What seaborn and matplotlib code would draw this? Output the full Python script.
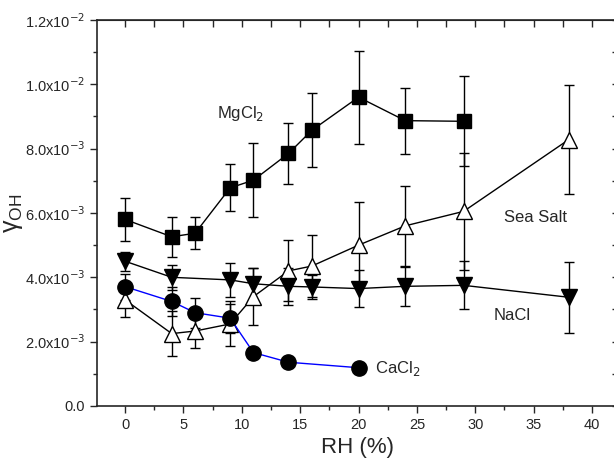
import matplotlib
matplotlib.use("Agg")
import matplotlib.pyplot as plt
import matplotlib.ticker as mticker
import pandas as pd
import seaborn as sns

# values (gamma in units of 1e-3)
rh_mg = [0, 4, 6, 9, 11, 14, 16, 20, 24, 29]
g_mg = [5.8, 5.26, 5.37, 6.78, 7.02, 7.85, 8.57, 9.6, 8.87, 8.85]
e_mg = [0.67, 0.62, 0.5, 0.73, 1.16, 0.95, 1.15, 1.45, 1.03, 1.4]

rh_sea = [0, 4, 6, 9, 11, 14, 16, 20, 24, 29, 38]
g_sea = [3.3, 2.25, 2.33, 2.55, 3.4, 4.2, 4.35, 5.0, 5.6, 6.05, 8.28]
e_sea = [0.53, 0.7, 0.52, 0.7, 0.88, 0.95, 0.97, 1.33, 1.25, 1.82, 1.7]

rh_na = [0, 4, 9, 11, 14, 16, 20, 24, 29, 38]
g_na = [4.5, 4.0, 3.92, 3.8, 3.72, 3.7, 3.65, 3.72, 3.75, 3.38]
e_na = [0.3, 0.38, 0.52, 0.5, 0.57, 0.38, 0.57, 0.6, 0.75, 1.1]

rh_ca = [0, 4, 6, 9, 11, 14, 20]
g_ca = [3.71, 3.25, 2.9, 2.73, 1.66, 1.36, 1.19]
e_ca = [0.4, 0.45, 0.47, 0.45, 0.0, 0.0, 0.0]

labels = ["MgCl$_2$", "Sea Salt", "NaCl", "CaCl$_2$"]

sns.set_style("ticks")
plt.rcParams["font.family"] = ["Liberation Sans", "DejaVu Sans"]

fig = plt.figure(figsize=(6.14, 4.59), dpi=100)
ax = fig.add_axes([0.158, 0.1155, 0.85, 0.841])

series = [
    (rh_mg, g_mg, e_mg, "s", "black", "black", 10),
    (rh_sea, g_sea, e_sea, "^", "white", "black", 12),
    (rh_na, g_na, e_na, "v", "black", "black", 12),
    (rh_ca, g_ca, e_ca, "o", "black", "#0000ff", 11),
]

for rh, g, e, mk, fc, lc, ms in series:
    df = pd.DataFrame({"RH": rh, "gamma": [v * 1e-3 for v in g]})
    ax.errorbar(df["RH"], df["gamma"], yerr=[v * 1e-3 for v in e], fmt="none",
                ecolor="black", elinewidth=1, capsize=3.5, capthick=1, zorder=2)
    sns.lineplot(data=df, x="RH", y="gamma", ax=ax, color=lc, lw=1,
                 marker=mk, markersize=ms, markerfacecolor=fc,
                 markeredgecolor="black", markeredgewidth=1, zorder=3)

ax.set_xlim(-2.4, 42.3)
ax.set_ylim(0, 0.012)
ax.xaxis.set_major_locator(mticker.MultipleLocator(5))
ax.xaxis.set_minor_locator(mticker.MultipleLocator(2.5))
ax.yaxis.set_major_locator(mticker.MultipleLocator(0.002))
ax.yaxis.set_minor_locator(mticker.MultipleLocator(0.001))


def yfmt(v, pos):
    if abs(v) < 1e-12:
        return "0.0"
    exp = -2 if v >= 0.00999 else -3
    return "%.1fx10$^{%d}$" % (v / 10 ** exp, exp)


ax.yaxis.set_major_formatter(mticker.FuncFormatter(yfmt))
ax.tick_params(axis="both", which="both", direction="out", labelsize=10.5, width=1)
ax.tick_params(which="major", length=5)
ax.tick_params(which="minor", length=3)

# top / right ticks pointing inward
top = ax.secondary_xaxis("top")
top.xaxis.set_major_locator(mticker.MultipleLocator(2.5))
top.tick_params(direction="in", length=5, width=1, labeltop=False)
right = ax.secondary_yaxis("right")
right.yaxis.set_major_locator(mticker.MultipleLocator(0.001))
right.tick_params(direction="in", length=5, width=1, labelright=False)

for sp in ax.spines.values():
    sp.set_linewidth(1.2)

ax.set_xlabel("RH (%)", fontsize=16)
ax.set_ylabel("γ$_\\mathregular{OH}$", fontsize=18)
ax.yaxis.set_label_coords(-0.138, 0.5)

ax.text(7.9, 9.1e-3, labels[0], fontsize=12, va="center")
ax.text(32.5, 5.87e-3, labels[1], fontsize=12, va="center")
ax.text(31.6, 2.8e-3, labels[2], fontsize=12, va="center")
ax.text(21.4, 1.18e-3, labels[3], fontsize=12, va="center")

fig.savefig("out.png", dpi=100)
